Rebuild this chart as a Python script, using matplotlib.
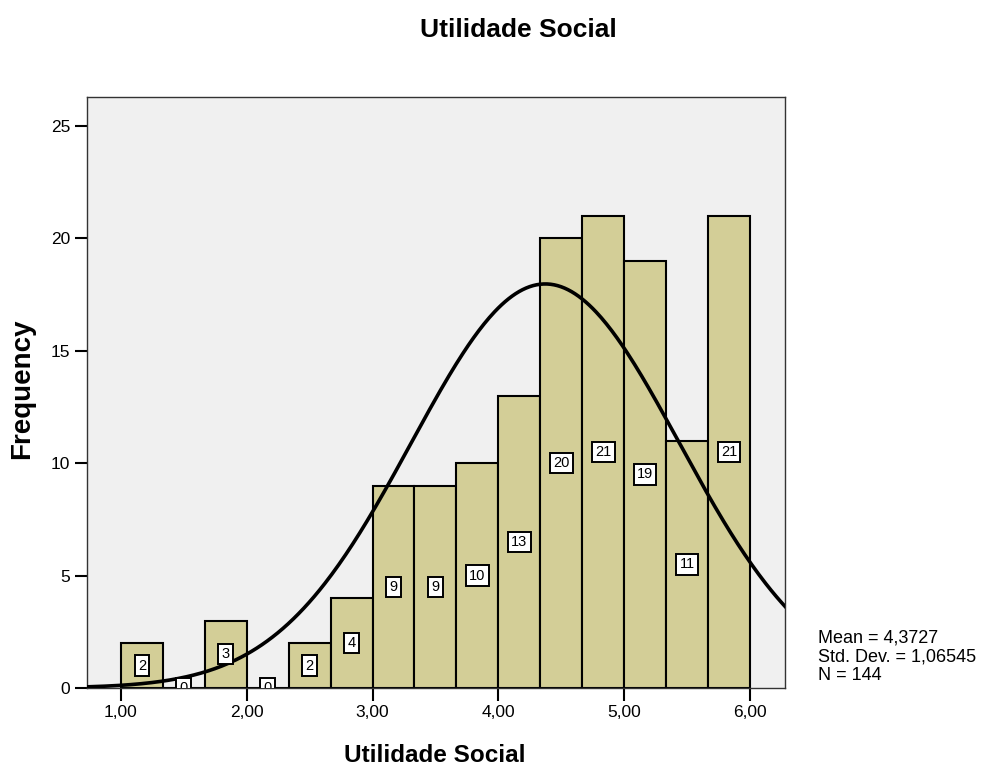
import numpy as np
import matplotlib
matplotlib.use("Agg")
import matplotlib.pyplot as plt

plt.rcParams['font.family'] = ['Liberation Sans', 'DejaVu Sans']

bin_edges = [1.0 + i / 3 for i in range(16)]
counts = [2, 0, 3, 0, 2, 4, 9, 9, 10, 13, 20, 21, 19, 11, 21]
mean = 4.3727
std = 1.06545
n = 144
xticks = [1, 2, 3, 4, 5, 6]
xticklabels = ["1,00", "2,00", "3,00", "4,00", "5,00", "6,00"]
yticks = [0, 5, 10, 15, 20, 25]

fig = plt.figure(figsize=(9.87, 7.72), dpi=100)
ax = fig.add_axes([0.0881, 0.1088, 0.7072, 0.7656])
ax.set_facecolor('#f0f0f0')

lefts = np.array(bin_edges[:-1])
width = bin_edges[1] - bin_edges[0]
ax.bar(lefts, counts, width=width, align='edge', color='#d3ce97',
       edgecolor='black', linewidth=1.5, zorder=2)

xmin, xmax = 0.73, 6.278
xs = np.linspace(xmin, xmax, 400)
pdf = n * width * np.exp(-0.5 * ((xs - mean) / std) ** 2) / (std * np.sqrt(2 * np.pi))
ax.plot(xs, pdf, color='black', linewidth=2.6, zorder=3)

for l, c in zip(lefts, counts):
    ax.text(l + width / 2, c / 2, str(c), ha='center', va='center', fontsize=10.5,
            zorder=4, clip_on=True,
            bbox=dict(boxstyle='square,pad=0.22', facecolor='white', edgecolor='black', linewidth=1.4))

ax.set_xlim(xmin, xmax)
ax.set_ylim(0, 26.29)
ax.set_xticks(xticks)
ax.set_xticklabels(xticklabels, fontsize=12.5)
ax.set_yticks(yticks)
ax.set_yticklabels([str(v) for v in yticks], fontsize=12.5)
ax.tick_params(direction='out', length=9, width=1.5, pad=3)
for s in ax.spines.values():
    s.set_linewidth(1.0)
    s.set_color('#333333')

fig.text(0.4403, 0.022, 'Utilidade Social', ha='center', va='center', fontsize=17.5, fontweight='bold')
fig.text(0.0223, 0.496, 'Frequency', ha='center', va='center', rotation=90, fontsize=20, fontweight='bold')
fig.text(0.5255, 0.961, 'Utilidade Social', ha='center', va='center', fontsize=19, fontweight='bold')

fig.text(0.829, 0.149, 'Mean = 4,3727\nStd. Dev. = 1,06545\nN = 144', ha='left', va='center',
         fontsize=13, linespacing=1.15)

fig.savefig('out.png', dpi=100)
